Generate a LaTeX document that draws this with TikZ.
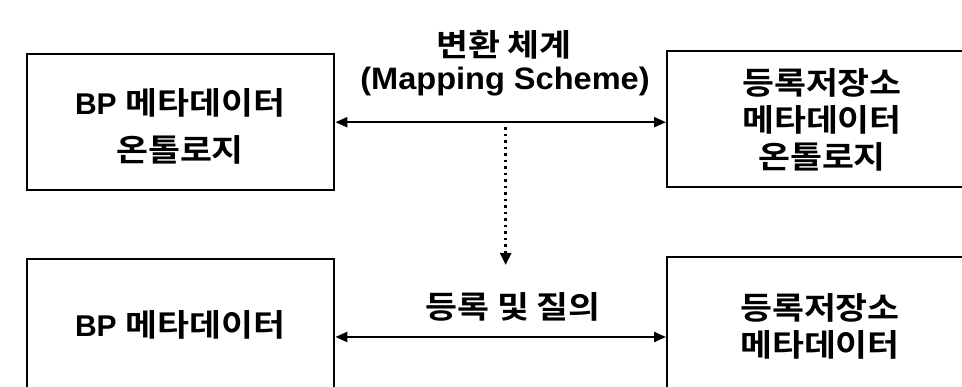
\documentclass[tikz,border=0pt]{standalone}
\usepackage{fontspec}
\setmainfont{Liberation Sans}
\newfontfamily\kr{Noto Sans CJK KR Bold}[FakeStretch=1.12]
\newfontfamily\lat{Liberation Sans}[FakeStretch=1.05]
\usetikzlibrary{arrows.meta,calc}
\newcommand\K[1]{{\kr #1}}
\begin{document}
\begin{tikzpicture}[x=1pt,y=1pt,
  box/.style={draw,line width=2.4pt,minimum width=307pt,minimum height=136pt,inner sep=0pt,anchor=north west},
  txt/.style={align=center,font=\fontsize{31}{37}\selectfont,inner sep=0pt},
  biarrow/.style={line width=2.2pt,{Triangle[length=12pt,width=10pt]}-{Triangle[length=12pt,width=10pt]}},
  dotarrow/.style={line width=2.4pt,dash pattern=on 2.5pt off 4pt,-{Triangle[length=12pt,width=11pt]}}]
\useasboundingbox (0,0) rectangle (962,387);
% boxes (y = 387 - pixel y)
\node[box] (tl) at (26,334) {};
\node[box,minimum width=360pt] (tr) at (666,337) {};
\node[box,minimum height=150pt] (bl) at (26,129) {};
\node[box,minimum height=150pt,minimum width=360pt] (br) at (666,131) {};
% box texts
\node[txt,font=\fontsize{31}{47}\selectfont] (tlt) at (180,260.5) {{\fontsize{30}{47}\selectfont\bfseries BP} \K{메타데이터}\\\K{온톨로지}};
\node[txt] (trt) at (822,267) {\K{등록저장소}\\\K{메타데이터}\\\K{온톨로지}};
\node[txt] (blt) at (180,62) {{\fontsize{30}{37}\selectfont\bfseries BP} \K{메타데이터}};
\node[txt] (brt) at (820,61) {\K{등록저장소}\\\K{메타데이터}};
% connectors
\draw[biarrow] (tl.east) -- (tl.east -| tr.west) coordinate[pos=0.515] (m);
\coordinate (bla) at ($(bl.north east)+(0,-79)$);
\draw[biarrow] (bla) -- (bla -| br.west);
\coordinate (dtip) at ($(bl.north east)!0.515!(br.north west)+(0,-8)$);
\draw[dotarrow] ($(m)+(0,-5)$) -- (m |- dtip);
% labels
\node[txt] (l1) at (504,342) {\K{변환 체계}};
\node[txt,font=\fontsize{31}{37}\selectfont] (l2) at (505,305) {\lat\bfseries (Mapping Scheme)};
\node[txt] (l3) at (513,80) {\K{등록 및 질의}};
\end{tikzpicture}
\end{document}
